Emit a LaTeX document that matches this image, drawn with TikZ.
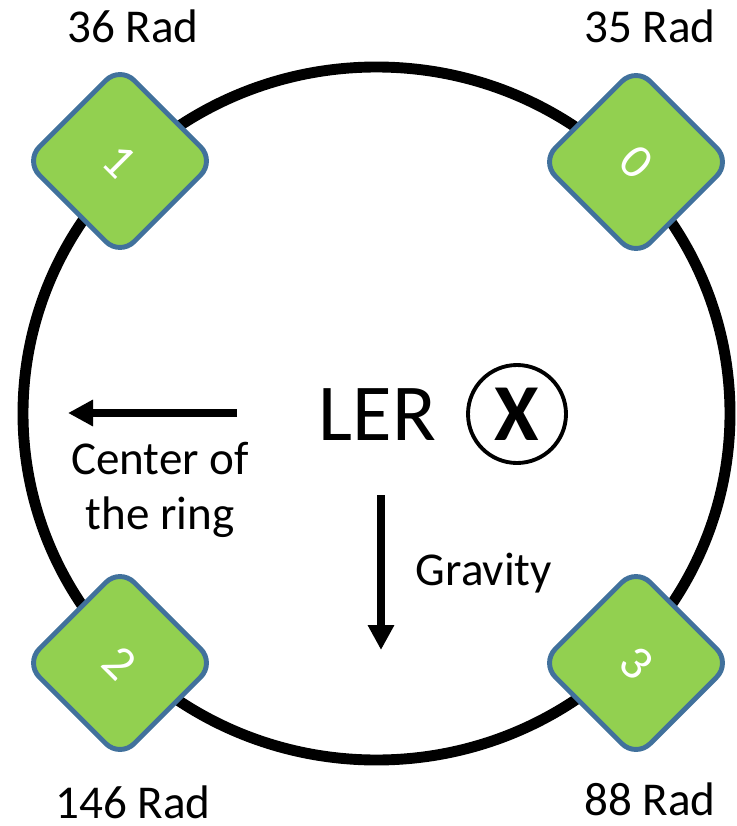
\documentclass[tikz,border=0pt]{standalone}
\usepackage{fontspec}
\setmainfont{Carlito}
\usetikzlibrary{arrows.meta, positioning}

\definecolor{padgreen}{HTML}{92D050}
\definecolor{padblue}{HTML}{41719C}

\begin{document}
\begin{tikzpicture}[
    pad/.style={draw=padblue, line width=1.4pt, fill=padgreen, rounded corners=0.2cm,
                minimum size=1.34cm, rotate=-45, text=white, font=\fontsize{14}{16}\selectfont},
    rad/.style={anchor=base, font=\fontsize{13.4}{16}\selectfont},
    lbl/.style={align=center, font=\fontsize{13.4}{15.6}\selectfont},
    fl/.style={-{Triangle[length=0.25cm, width=0.25cm]}, line width=2pt}
]
    \useasboundingbox (0,0) rectangle (7.36,-8.26);

    % ring
    \draw[line width=3.1pt] (3.765,-4.135) ellipse [x radius=3.535, y radius=3.465];

    % pads
    \node[pad] (p0) at (6.36,-1.62) {0};
    \node[pad] (p1) at (1.20,-1.61) {1};
    \node[pad] (p2) at (1.20,-6.63) {2};
    \node[pad] (p3) at (6.36,-6.63) {3};

    \node[rad] (r0) at (6.50,-0.43) {35 Rad};
    \node[rad] (r1) at (1.33,-0.43) {36 Rad};
    \node[rad] (r2) at (1.33,-8.18) {146 Rad};
    \node[rad] (r3) at (6.50,-8.15) {88 Rad};

    % beam
    \node[anchor=base, font=\fontsize{23}{26}\selectfont] (ler) at (3.775,-4.40) {LER};
    \node[draw, circle, line width=1.1pt, minimum size=0.98cm, inner sep=0pt,
          font=\fontsize{23}{26}\selectfont\bfseries] (cx) at (5.17,-4.14) {X};

    % directions
    \coordinate (ctail) at (2.37,-4.13);
    \coordinate (ctip) at (0.68,-4.13);
    \draw[fl] (ctail) -- (ctip);
    \node[lbl] (ctr) at (1.60,-4.90) {Center of\\the ring};

    \coordinate (gtail) at (3.81,-4.95);
    \coordinate (gtip) at (3.81,-6.50);
    \draw[fl] (gtail) -- (gtip);
    \node[rad] (grav) at (4.84,-5.85) {Gravity};
\end{tikzpicture}
\end{document}
